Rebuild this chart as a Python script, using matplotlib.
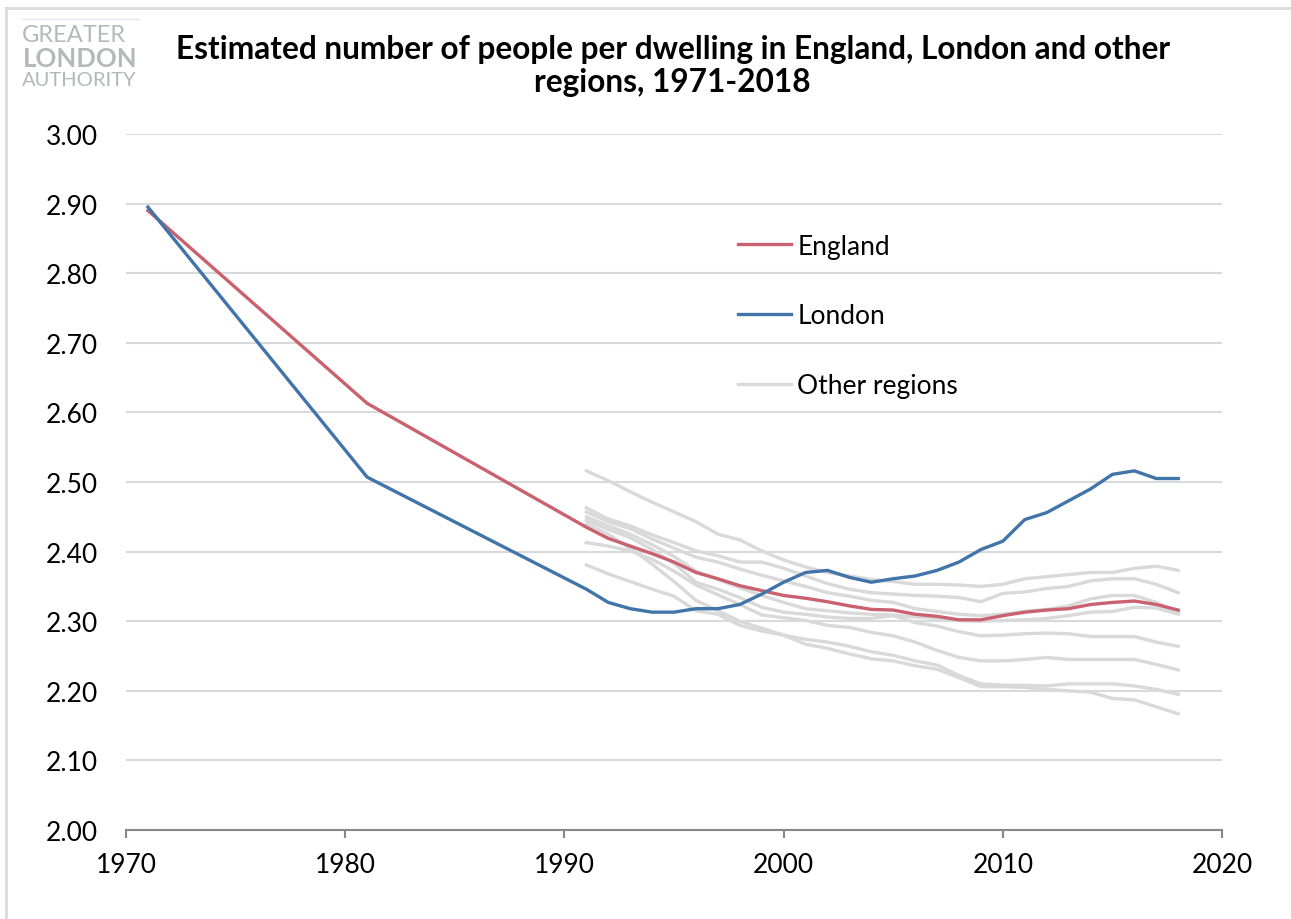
import matplotlib
matplotlib.use("Agg")
import matplotlib.pyplot as plt
from matplotlib.lines import Line2D

plt.rcParams['font.family'] = ['Lato', 'DejaVu Sans']

# data
long_years = [1971, 1981] + list(range(1991, 2019))
region_years = list(range(1991, 2019))

england = [2.890, 2.613, 2.435, 2.419, 2.408, 2.397, 2.385, 2.370, 2.361, 2.351,
           2.344, 2.337, 2.333, 2.328, 2.322, 2.317, 2.316, 2.310, 2.307, 2.302,
           2.302, 2.308, 2.313, 2.316, 2.318, 2.324, 2.327, 2.329, 2.324, 2.316]
london = [2.895, 2.507, 2.346, 2.327, 2.318, 2.313, 2.313, 2.318, 2.318, 2.324,
          2.339, 2.356, 2.370, 2.373, 2.363, 2.356, 2.361, 2.365, 2.373, 2.385,
          2.403, 2.415, 2.446, 2.456, 2.473, 2.490, 2.511, 2.516, 2.505, 2.505]

region_a = [2.516, 2.502, 2.486, 2.471, 2.457, 2.443, 2.425, 2.417, 2.401, 2.388,
            2.378, 2.370, 2.365, 2.360, 2.357, 2.353, 2.353, 2.352, 2.350, 2.353,
            2.361, 2.364, 2.367, 2.370, 2.370, 2.376, 2.379, 2.373]
region_b = [2.463, 2.447, 2.437, 2.424, 2.413, 2.401, 2.394, 2.385, 2.385, 2.376,
            2.365, 2.354, 2.346, 2.341, 2.339, 2.337, 2.336, 2.334, 2.328, 2.340,
            2.342, 2.347, 2.350, 2.358, 2.361, 2.361, 2.353, 2.341]
region_c = [2.457, 2.443, 2.433, 2.418, 2.405, 2.392, 2.385, 2.375, 2.366, 2.358,
            2.350, 2.341, 2.336, 2.330, 2.327, 2.318, 2.314, 2.310, 2.308, 2.310,
            2.314, 2.317, 2.322, 2.332, 2.337, 2.337, 2.327, 2.313]
region_d = [2.450, 2.437, 2.425, 2.410, 2.393, 2.372, 2.360, 2.348, 2.337, 2.327,
            2.318, 2.315, 2.312, 2.310, 2.309, 2.306, 2.304, 2.301, 2.300, 2.301,
            2.302, 2.304, 2.308, 2.313, 2.314, 2.320, 2.319, 2.310]
region_e = [2.445, 2.432, 2.420, 2.403, 2.383, 2.356, 2.346, 2.334, 2.320, 2.313,
            2.310, 2.306, 2.304, 2.304, 2.308, 2.298, 2.293, 2.285, 2.279, 2.280,
            2.282, 2.283, 2.282, 2.278, 2.278, 2.278, 2.270, 2.264]
region_f = [2.413, 2.408, 2.401, 2.389, 2.372, 2.352, 2.338, 2.324, 2.309, 2.305,
            2.301, 2.294, 2.291, 2.284, 2.279, 2.270, 2.258, 2.248, 2.243, 2.243,
            2.245, 2.248, 2.245, 2.245, 2.245, 2.245, 2.238, 2.230]
region_g = [2.381, 2.368, 2.357, 2.346, 2.336, 2.315, 2.310, 2.294, 2.286, 2.280,
            2.274, 2.270, 2.264, 2.256, 2.251, 2.243, 2.237, 2.222, 2.210, 2.208,
            2.208, 2.207, 2.210, 2.210, 2.210, 2.207, 2.202, 2.195]
region_h = [2.440, 2.425, 2.405, 2.382, 2.357, 2.330, 2.315, 2.300, 2.290, 2.280,
            2.267, 2.261, 2.253, 2.246, 2.243, 2.236, 2.231, 2.219, 2.206, 2.206,
            2.205, 2.202, 2.200, 2.198, 2.189, 2.187, 2.177, 2.167]
other_regions = [region_a, region_b, region_c, region_d,
                 region_e, region_f, region_g, region_h]

y_ticks = [2.0, 2.1, 2.2, 2.3, 2.4, 2.5, 2.6, 2.7, 2.8, 2.9, 3.0]
x_ticks = [1970, 1980, 1990, 2000, 2010, 2020]

ENGLAND_COLOR = '#c9616f'
LONDON_COLOR = '#4174a9'
GREY = '#d9d9d9'

fig = plt.figure(figsize=(12.91, 9.2), dpi=100)
ax = fig.add_axes([0.0976, 0.0967, 0.849, 0.7566])

for vals in other_regions:
    ax.plot(region_years, vals, color=GREY, linewidth=2.4, zorder=2)
ax.plot(long_years, england, color=ENGLAND_COLOR, linewidth=2.4, zorder=3)
ax.plot(long_years, london, color=LONDON_COLOR, linewidth=2.4, zorder=4)

ax.set_xlim(1970, 2020)
ax.set_ylim(2.0, 3.0)
ax.set_xticks(x_ticks)
ax.set_yticks(y_ticks)
ax.set_yticklabels([f'{v:.2f}' for v in y_ticks])
ax.tick_params(axis='y', length=0, pad=20, labelsize=19)
ax.tick_params(axis='x', length=6, width=1.5, color='#888888', direction='out',
               pad=10, labelsize=19)
ax.grid(axis='y', color=GREY, linewidth=1.5, zorder=0)
ax.set_axisbelow(True)
for side in ['left', 'right', 'top']:
    ax.spines[side].set_visible(False)
ax.spines['bottom'].set_color('#888888')
ax.spines['bottom'].set_linewidth(1.5)
ax.spines['bottom'].set_zorder(1)

handles = [Line2D([], [], color=ENGLAND_COLOR, linewidth=2.4),
           Line2D([], [], color=LONDON_COLOR, linewidth=2.4),
           Line2D([], [], color=GREY, linewidth=2.4)]
ax.legend(handles, ['England', 'London', 'Other regions'],
          loc='upper left', bbox_to_anchor=(0.5365, 0.891), frameon=False,
          fontsize=19, labelspacing=1.70, handlelength=2.0, handletextpad=0.25)

fig.text(0.521, 0.928, 'Estimated number of people per dwelling in England, London and other\nregions, 1971-2018',
         ha='center', va='center', fontsize=22.8, fontweight='bold',
         linespacing=1.17)

# GLA logo, just text in grey
logo_grey = '#b5b8bb'
fig.text(0.017, 0.961, 'GREATER', fontsize=17, color=logo_grey, va='center')
fig.text(0.018, 0.936, 'LONDON', fontsize=18.5, color=logo_grey, va='center',
         fontweight='bold')
fig.text(0.017, 0.913, 'AUTHORITY', fontsize=14.5, color=logo_grey, va='center')
fig.add_artist(Line2D([0.017, 0.108], [0.978, 0.978], transform=fig.transFigure,
                      color='#e3e8ee', linewidth=1))

# border on top and left like the source screenshot
fig.add_artist(Line2D([0.0046, 1.0], [0.99, 0.99], transform=fig.transFigure,
                      color='#dcdcdc', linewidth=2))
fig.add_artist(Line2D([0.0046, 0.0046], [0.0, 0.99], transform=fig.transFigure,
                      color='#dcdcdc', linewidth=2))

fig.savefig('out.png', dpi=100)
